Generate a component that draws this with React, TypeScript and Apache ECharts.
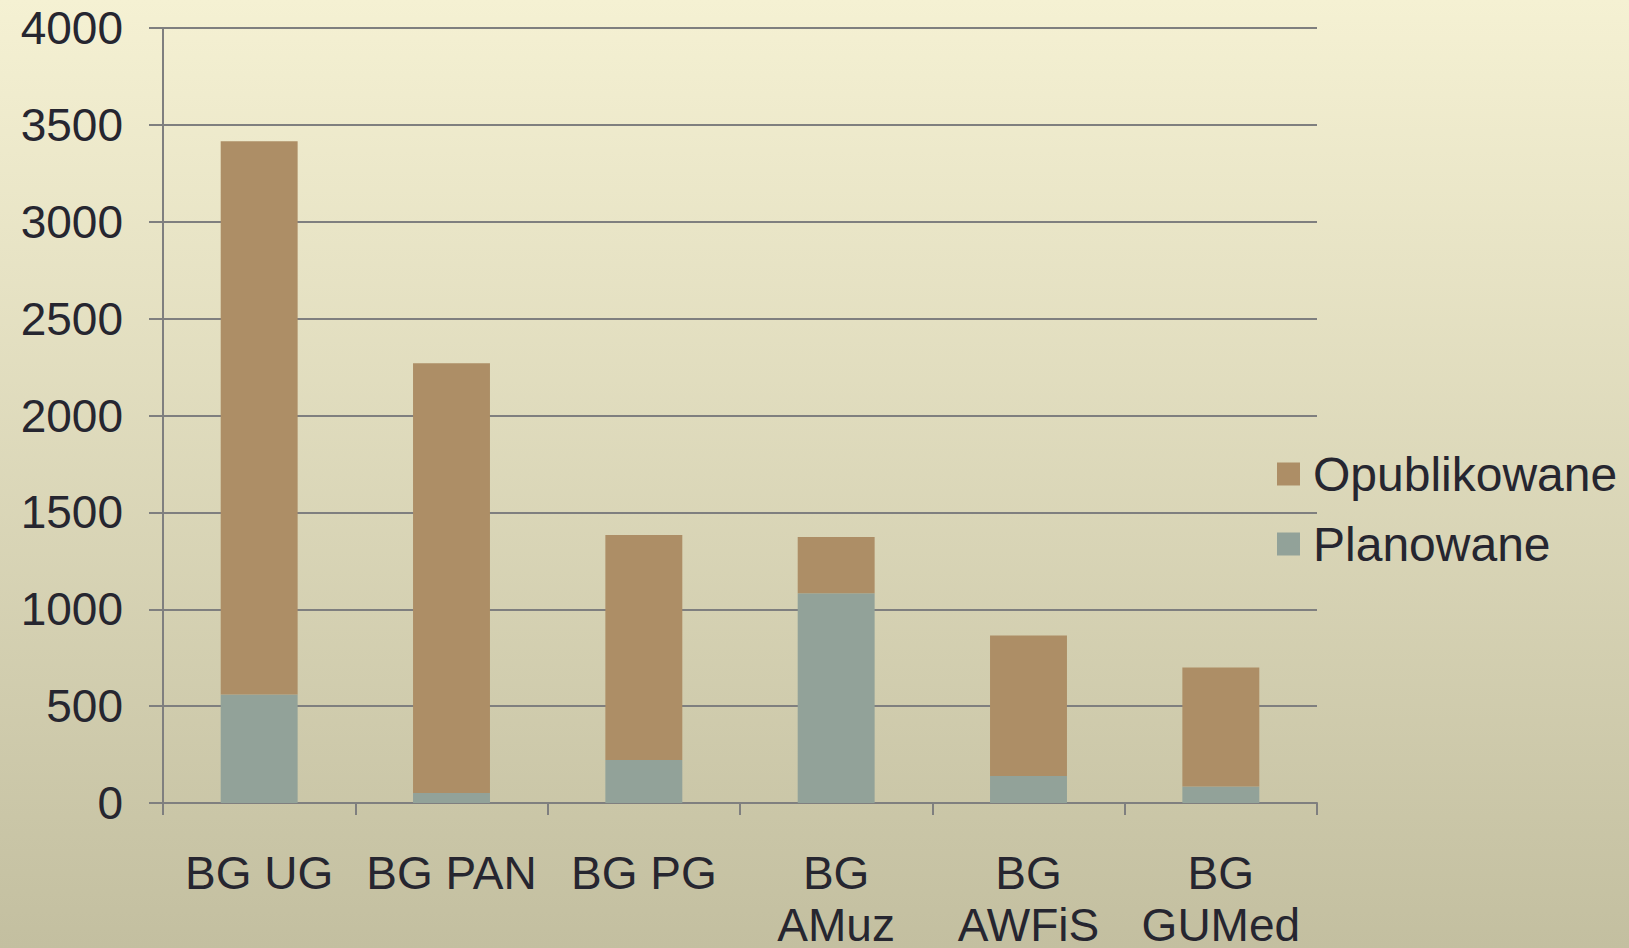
import React, { useEffect, useRef } from "react";
import * as echarts from "echarts";

const categories = ["BG UG", "BG PAN", "BG PG", "BG\nAMuz", "BG\nAWFiS", "BG\nGUMed"];
const planowane = [560, 52, 222, 1083, 140, 85];
const opublikowane = [2856, 2218, 1161, 290, 724, 614];
const yTicks = { min: 0, max: 4000, interval: 500 };

const textColor = "#262630";
const lineColor = "#7f7f7f";
const font = "'Liberation Sans', Arial, sans-serif";

export default function App() {
  const ref = useRef<HTMLDivElement>(null);
  useEffect(() => {
    if (!ref.current) return;
    const chart = echarts.init(ref.current, null, { renderer: "svg" });
    chart.setOption({
      animation: false,
      backgroundColor: new echarts.graphic.LinearGradient(0, 0, 0, 1, [
        { offset: 0, color: "#f5f1d3" },
        { offset: 1, color: "#c3bfa0" },
      ]),
      textStyle: { fontFamily: font },
      grid: { left: 163, right: 312, top: 28, bottom: 145, outerBoundsMode: "none", containLabel: false },
      legend: {
        orient: "vertical",
        left: 1272,
        top: 445,
        itemWidth: 23,
        itemHeight: 23,
        itemGap: 22,
        icon: "rect",
        data: ["Opublikowane", "Planowane"],
        textStyle: { fontSize: 48, color: textColor, fontFamily: font, lineHeight: 32, padding: [0, 0, 0, 8] },
      },
      xAxis: {
        type: "category",
        data: categories,
        axisLine: { lineStyle: { color: lineColor, width: 2 } },
        axisTick: { show: true, length: 12, lineStyle: { color: lineColor, width: 2 } },
        axisLabel: { fontSize: 46, color: textColor, lineHeight: 52, margin: 44, interval: 0 },
      },
      yAxis: {
        type: "value",
        min: yTicks.min,
        max: yTicks.max,
        interval: yTicks.interval,
        axisLine: { show: true, lineStyle: { color: lineColor, width: 2 } },
        axisTick: { show: true, length: 14, lineStyle: { color: lineColor, width: 2 } },
        splitLine: { lineStyle: { color: lineColor, width: 2 } },
        axisLabel: { fontSize: 46, color: textColor, margin: 40, formatter: (v: number) => String(v) },
      },
      series: [
        {
          name: "Planowane",
          type: "bar",
          stack: "s",
          barWidth: "40%",
          data: planowane,
          itemStyle: { color: "#92a299" },
        },
        {
          name: "Opublikowane",
          type: "bar",
          stack: "s",
          barWidth: "40%",
          data: opublikowane,
          itemStyle: { color: "#ad8e66" },
        },
      ],
    });
    return () => chart.dispose();
  }, []);
  return (
    <div
      ref={ref}
      style={{ position: "absolute", left: 0, top: 0, width: 1629, height: 948 }}
    />
  );
}
